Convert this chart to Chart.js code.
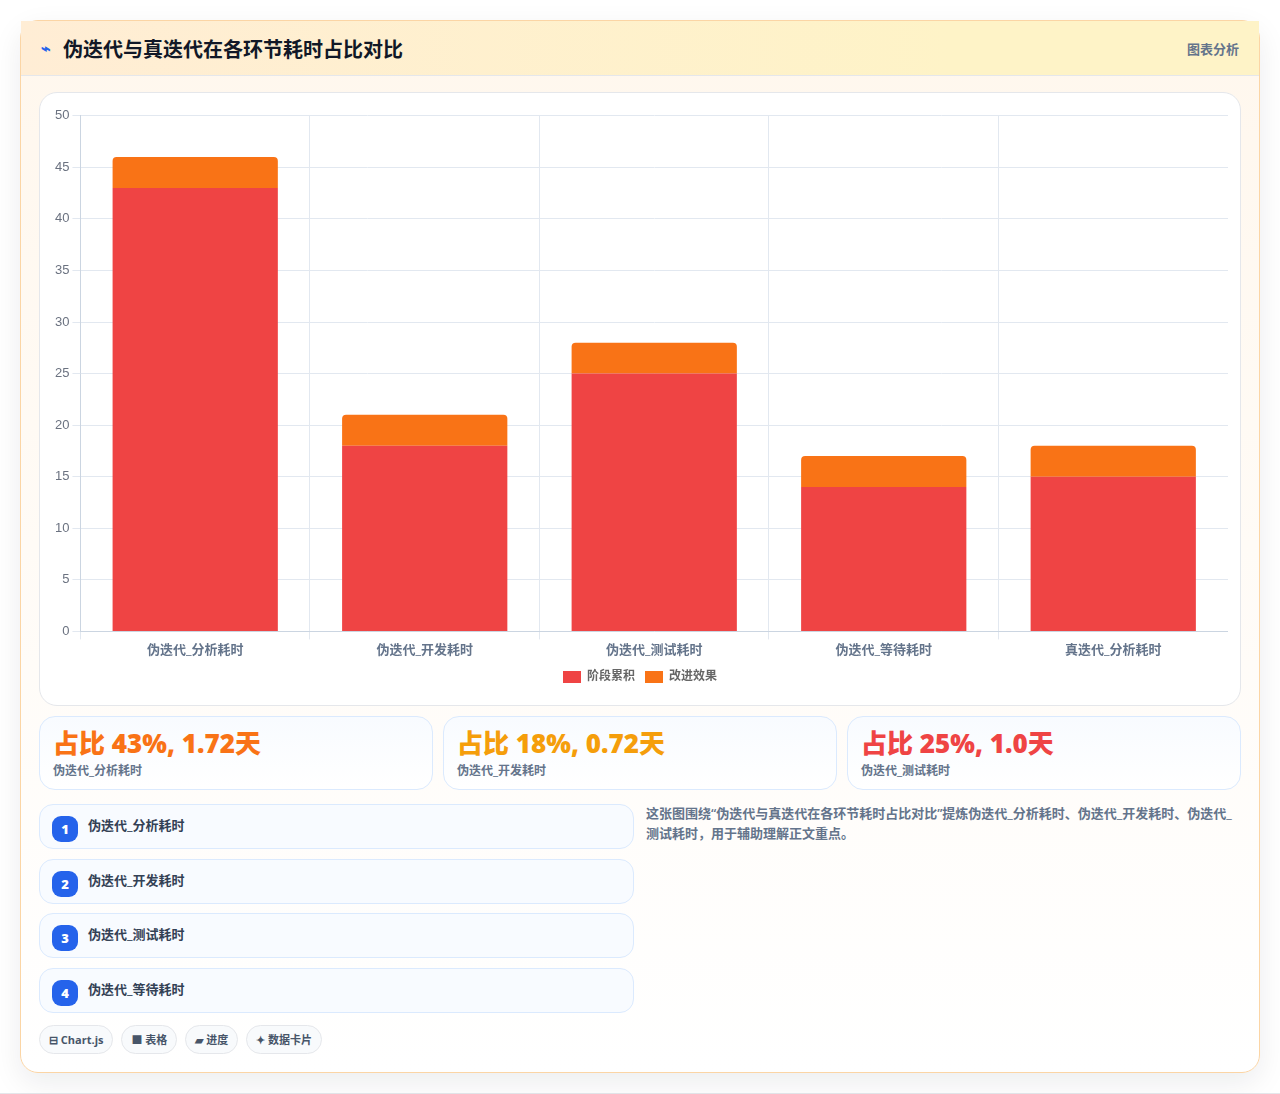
<!DOCTYPE html>
<html lang="zh">
<head>
<meta charset="utf-8">
<title>伪迭代与真迭代在各环节耗时占比对比</title>
<script src="https://cdn.jsdelivr.net/npm/chart.js@4/dist/chart.umd.min.js"></script>
<style>
* { box-sizing: border-box; }
html, body { margin: 0; height: 1094px; overflow: hidden; background: #fff; }
body { font-family: "Open Sans", "Noto Sans CJK SC", sans-serif; border-bottom: 1px solid #e5e7eb; }
.card { position: absolute; left: 20px; top: 20px; width: 1240px; height: 1053px; border: 1px solid #fbd5a5; border-radius: 18px;
  background: linear-gradient(180deg, #fff7ed 0%, #fff 100%); box-shadow: 0 10px 30px rgba(15,23,42,.08); }
.head { height: 55px; display: flex; align-items: center; justify-content: space-between; padding: 0 20px; border-bottom: 1px solid #e5e7eb;
  background: linear-gradient(90deg, #ffedd5, #fef3c7 75%); }
.head h1 { margin: 0; font-size: 20px; font-weight: 700; color: #111827; display: flex; align-items: center; gap: 8px; }
.head .icon { color: #2563eb; font-size: 16px; width: 14px; }
.head span.tag { font-size: 13px; font-weight: 600; color: #64748b; }
.chart-box { position: absolute; left: 18px; top: 71px; width: 1202px; height: 614px; background: #fff; border: 1px solid #e5e7eb; border-radius: 18px; padding: 12px 12px 0 12px; }
.chart-box canvas { display: block; }
.stats { position: absolute; left: 18px; top: 695px; width: 1202px; display: grid; grid-template-columns: repeat(3, 1fr); gap: 10px; }
.stat { height: 74px; border: 1px solid #dbeafe; border-radius: 16px; background: linear-gradient(180deg, #f8fbff, #fff); padding: 7px 13px; }
.stat b { display: block; font-size: 26px; line-height: 38px; font-weight: 800; }
.stat small { display: block; font-size: 12px; line-height: 18px; font-weight: 600; color: #64748b; }
.steps { position: absolute; left: 18px; top: 783px; width: 595px; }
.step { position: relative; height: 45px; margin-bottom: 9.6px; border: 1px solid #dbeafe; border-radius: 14px; background: #f8fbff; font-size: 13px; font-weight: 600; color: #334155; padding: 11px 0 0 48px; line-height: 18px; }
.step i { position: absolute; left: 12px; top: 11px; width: 26px; height: 26px; border-radius: 9px; background: #2563eb; color: #fff; font-style: normal; font-weight: 800; font-size: 13px; line-height: 26px; text-align: center; }
.note { position: absolute; left: 625px; top: 782px; width: 594px; margin: 0; font-size: 13px; line-height: 20px; font-weight: 600; color: #64748b; }
.pills { position: absolute; left: 18px; top: 1004px; display: flex; gap: 8px; }
.pill { height: 29px; padding: 0 9px; border: 1px solid #e5e7eb; border-radius: 15px; background: #f8fafc; font-size: 11px; line-height: 27px; font-weight: 700; color: #475569; white-space: nowrap; }
</style>
</head>
<body>
<div class="card">
  <div class="head">
    <h1><span class="icon">⌁</span><span id="title"></span></h1>
    <span class="tag">图表分析</span>
  </div>
  <div class="chart-box"><canvas id="stageChart" width="1176" height="588"></canvas></div>
  <div class="stats" id="stats"></div>
  <div class="steps" id="steps"></div>
  <p class="note" id="note"></p>
  <div class="pills" id="pills"></div>
</div>
<script>
const title = '伪迭代与真迭代在各环节耗时占比对比';
const categories = ['伪迭代_分析耗时', '伪迭代_开发耗时', '伪迭代_测试耗时', '伪迭代_等待耗时', '真迭代_分析耗时'];
const stageValues = [43, 18, 25, 14, 15];
const effectValues = [3, 3, 3, 3, 3];
const yTicks = [0, 5, 10, 15, 20, 25, 30, 35, 40, 45, 50];
const statValues = ['占比 43%, 1.72天', '占比 18%, 0.72天', '占比 25%, 1.0天'];
const statColors = ['#f97316', '#f59e0b', '#ef4444'];
const stepNames = ['伪迭代_分析耗时', '伪迭代_开发耗时', '伪迭代_测试耗时', '伪迭代_等待耗时'];
const pillNames = ['⊟ Chart.js', '■ 表格', '▰ 进度', '✦ 数据卡片'];
const noteText = '这张图围绕“伪迭代与真迭代在各环节耗时占比对比”提炼伪迭代_分析耗时、伪迭代_开发耗时、伪迭代_测试耗时，用于辅助理解正文重点。';

document.getElementById('title').textContent = title;
document.getElementById('note').textContent = noteText;
document.getElementById('stats').innerHTML = statValues.map((v, i) =>
  `<div class="stat"><b style="color:${statColors[i]}">${v}</b><small>${categories[i]}</small></div>`).join('');
document.getElementById('steps').innerHTML = stepNames.map((n, i) =>
  `<div class="step"><i>${i + 1}</i>${n}</div>`).join('');
document.getElementById('pills').innerHTML = pillNames.map(p => `<span class="pill">${p}</span>`).join('');

const ctx = document.getElementById('stageChart').getContext('2d');
const stageChart = new Chart(ctx, {
  type: 'bar',
  data: {
    labels: categories,
    datasets: [
      { label: '阶段累积', data: stageValues, backgroundColor: '#ef4444', stack: 's' },
      { label: '改进效果', data: effectValues, backgroundColor: '#f97316', borderRadius: { topLeft: 4, topRight: 4 }, borderSkipped: 'bottom', stack: 's' }
    ]
  },
  options: {
    responsive: false,
    animation: false,
    maintainAspectRatio: false,
    plugins: {
      legend: {
        position: 'bottom',
        labels: { boxWidth: 18, boxHeight: 12, padding: 10, color: '#666', font: { size: 12, weight: '600', family: '"Open Sans", "Noto Sans CJK SC"' } }
      },
      tooltip: { enabled: false }
    },
    scales: {
      x: {
        stacked: true,
        grid: { color: '#e2e8f0' },
        border: { color: '#cbd5e1' },
        ticks: { color: '#64748b', font: { size: 13, weight: '600', family: '"Open Sans", "Noto Sans CJK SC"' } }
      },
      y: {
        stacked: true,
        min: 0,
        max: 50,
        afterBuildTicks: axis => { axis.ticks = yTicks.map(v => ({ value: v })); },
        grid: { color: '#e2e8f0' },
        border: { color: '#cbd5e1' },
        ticks: { color: '#6b7280', font: { size: 13, family: '"Liberation Sans"' } }
      }
    }
  }
});
</script>
</body>
</html>
